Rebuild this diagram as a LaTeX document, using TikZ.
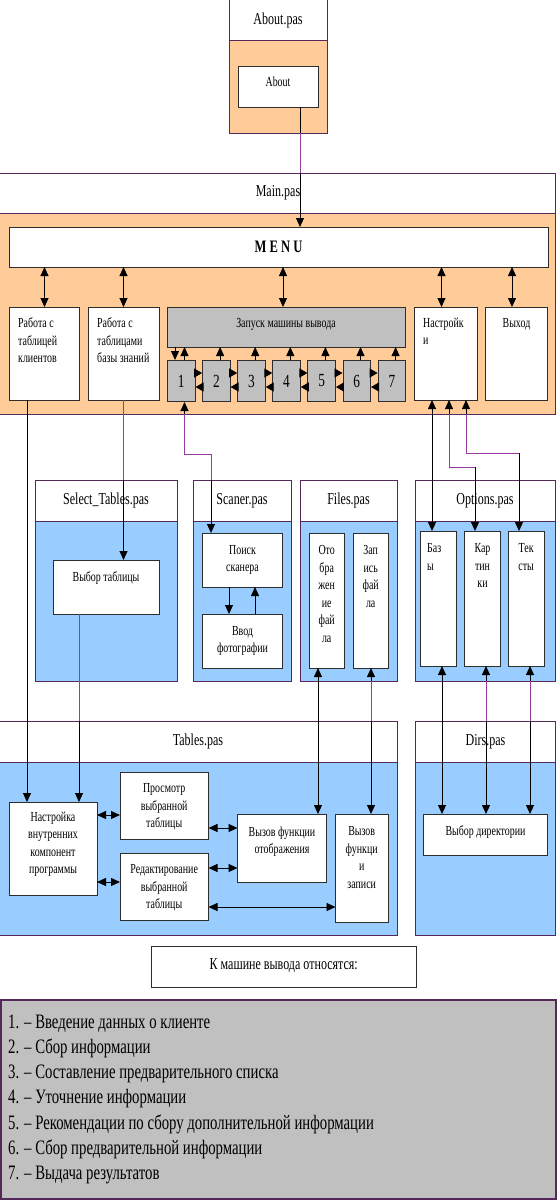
\documentclass[tikz,border=0pt]{standalone}
\usepackage{fontspec}
\setmainfont{Liberation Serif}[FakeStretch=0.72]
\usetikzlibrary{arrows.meta}
\definecolor{peach}{RGB}{255,204,153}
\definecolor{skyb}{RGB}{153,204,255}
\definecolor{grayb}{RGB}{192,192,192}
\definecolor{purp}{RGB}{150,60,160}
\definecolor{frameclr}{RGB}{85,40,90}
\definecolor{edgeclr}{RGB}{45,45,45}
\newcommand\bx[6]{\node[#6, anchor=north west, inner sep=0pt, outer sep=0pt, minimum width={(#4)-(#2)}, minimum height={(#5)-(#3)}] (#1) at (#2,#3) {};}
\tikzset{
  boxw/.style={draw=edgeclr, line width=1pt, fill=white},
  boxg/.style={draw=edgeclr, line width=1pt, fill=grayb},
  modhead/.style={draw=frameclr, line width=1pt, fill=white},
  modpeach/.style={draw=frameclr, line width=1pt, fill=peach},
  modblue/.style={draw=frameclr, line width=1pt, fill=skyb},
  legendbox/.style={draw=frameclr, line width=1.2pt, fill=grayb},
  hdr/.style={font=\fontsize{16.7}{19}\selectfont, inner sep=0pt},
  bt/.style={font=\fontsize{13.8}{17.5}\selectfont, inner sep=0pt, align=center},
  btl/.style={font=\fontsize{13.8}{17.5}\selectfont, inner sep=0pt, align=left},
  numtxt/.style={font=\fontsize{18.5}{20}\selectfont},
  conn/.style={line width=0.9pt, draw=black},
  pconn/.style={line width=0.9pt, draw=purp},
  arr/.style={conn, -{Triangle[length=9pt,width=8pt]}},
  darr/.style={conn, {Triangle[length=9pt,width=8pt]}-{Triangle[length=9pt,width=8pt]}},
  harr/.style={conn, -{Triangle[length=8pt,width=9pt]}},
}
\begin{document}
\begin{tikzpicture}[x=1pt,y=-1pt]
\useasboundingbox (0,0) rectangle (557,1200);

% ---------- module frames ----------
\bx{abouth}{229}{-1}{327}{40}{modhead}
\bx{aboutb}{229}{40}{327}{133}{modpeach}
\bx{mainh}{-1}{173}{555.5}{213.5}{modhead}
\bx{mainb}{-1}{213.5}{555.5}{414}{modpeach}
\bx{selh}{35}{480}{177}{521}{modhead}
\bx{selb}{35}{521}{177}{681}{modblue}
\bx{scanh}{193.5}{480}{291}{521}{modhead}
\bx{scanb}{193.5}{521}{291}{681}{modblue}
\bx{filesh}{300}{480}{397}{521}{modhead}
\bx{filesb}{300}{521}{397}{681}{modblue}
\bx{opth}{415}{480}{555.5}{521}{modhead}
\bx{optb}{415}{521}{555.5}{681}{modblue}
\bx{tabh}{-1}{721}{397}{762}{modhead}
\bx{tabb}{-1}{762}{397}{935}{modblue}
\bx{dirh}{415}{721}{555.5}{762}{modhead}
\bx{dirb}{415}{762}{555.5}{935}{modblue}

% ---------- inner boxes ----------
\bx{aboutin}{238}{66}{318}{107}{boxw}
\bx{menu}{9}{227}{548}{267}{boxw}
\bx{klient}{9}{307}{79}{400}{boxw}
\bx{znan}{88}{307}{159}{400}{boxw}
\bx{zap}{167}{307}{405}{347}{boxg}
\bx{nastr}{414.5}{307}{477}{400}{boxw}
\bx{vyhod}{485.5}{307}{547.5}{400}{boxw}
\foreach \i in {1,...,7}{
  \pgfmathsetmacro\xl{167+35.1*(\i-1)}
  \node[boxg, numtxt, anchor=north west, inner sep=0pt, minimum width=27.5, minimum height=41] (n\i) at (\xl,360) {\i};
}
\bx{vybtab}{53}{560}{159}{614}{boxw}
\bx{poisk}{202.5}{533}{282.5}{587}{boxw}
\bx{vvod}{202.5}{614}{282.5}{668}{boxw}
\bx{otobr}{309}{533}{344.5}{668}{boxw}
\bx{zapis}{353.5}{533}{388}{668}{boxw}
\bx{bazy}{420.5}{531}{456}{666}{boxw}
\bx{kart}{464.5}{531}{500.5}{666}{boxw}
\bx{teksty}{508.5}{531}{544}{666}{boxw}
\bx{nastrvn}{9}{802}{97}{895}{boxw}
\bx{prosm}{120}{772}{208.5}{839}{boxw}
\bx{red}{120}{853}{208.5}{920}{boxw}
\bx{vyzot}{237.5}{814}{326.5}{882}{boxw}
\bx{vyzap}{335.5}{814}{388}{922}{boxw}
\bx{vybdir}{423.5}{814}{547.5}{855}{boxw}
\bx{kmash}{151}{946}{416.5}{987}{boxw}
\bx{legend}{1}{1000}{556}{1199}{legendbox}

% ---------- texts ----------
\node[hdr] (t-abouth) at (278,20) {About.pas};
\node[bt] (t-about) at (278,82) {About};
\node[hdr] (t-mainh) at (278,193) {Main.pas};
\node[font=\fontsize{17.5}{19}\selectfont\bfseries, inner sep=0pt] (t-menu) at (278.5,247) {M E N U};
\node[btl, anchor=north west] (t-klient) at (18,317.5) {Работа с\\таблицей\\клиентов};
\node[btl, anchor=north west] (t-znan) at (97,317.5) {Работа с\\таблицами\\базы знаний};
\node[bt] (t-zap) at (286,324) {Запуск машины вывода};
\node[btl, anchor=north west] (t-nastr) at (423,317.5) {Настройк\\и};
\node[bt] (t-vyhod) at (516.5,324) {Выход};
\node[hdr] (t-selh) at (106,500.5) {Select\_Tables.pas};
\node[bt] (t-vybtab) at (106,578) {Выбор таблицы};
\node[hdr] (t-scanh) at (242,500.5) {Scaner.pas};
\node[bt, anchor=north] (t-poisk) at (242.5,545) {Поиск\\сканера};
\node[bt, anchor=north] (t-vvod) at (242.5,626) {Ввод\\фотографии};
\node[hdr] (t-filesh) at (348.5,500.5) {Files.pas};
\node[bt, anchor=north] (t-otobr) at (326.7,545.5) {Ото\\бра\\жен\\ие\\фай\\ла};
\node[bt, anchor=north] (t-zapis) at (370.7,545.5) {Зап\\ись\\фай\\ла};
\node[hdr] (t-opth) at (485,500.5) {Options.pas};
\node[btl, anchor=north west] (t-bazy) at (427,543.5) {Баз\\ы};
\node[bt, anchor=north] (t-kart) at (482.5,543.5) {Кар\\тин\\ки};
\node[bt, anchor=north] (t-teksty) at (526.2,543.5) {Тек\\сты};
\node[hdr] (t-tabh) at (198,741.5) {Tables.pas};
\node[hdr] (t-dirh) at (485.5,741.5) {Dirs.pas};
\node[bt, anchor=north] (t-nastrvn) at (53,811.5) {Настройка\\внутренних\\компонент\\программы};
\node[bt, anchor=north] (t-prosm) at (164.2,783.5) {Просмотр\\выбранной\\таблицы};
\node[bt, anchor=north] (t-red) at (164.2,864.5) {Редактирование\\выбранной\\таблицы};
\node[bt, anchor=north] (t-vyzot) at (282,826.5) {Вызов функции\\отображения};
\node[bt, anchor=north] (t-vyzap) at (361.7,826.5) {Вызов\\функци\\и\\записи};
\node[bt] (t-vybdir) at (485.5,832) {Выбор директории};
\node[font=\fontsize{16.7}{19}\selectfont, inner sep=0pt] (t-kmash) at (283.7,966) {К машине вывода относятся:};
\node[font=\fontsize{20.5}{25.2}\selectfont, inner sep=0pt, align=left, anchor=north west] (t-legend) at (8,1014.5) {%
1. – Введение данных о клиенте\\
2. – Сбор информации\\
3. – Составление предварительного списка\\
4. – Уточнение информации\\
5. – Рекомендации по сбору дополнительной информации\\
6. – Сбор предварительной информации\\
7. – Выдача результатов};

% ---------- column / jog coordinates ----------
\coordinate (cAb) at (300,0);
\coordinate (cM1) at (44.5,0);
\coordinate (cM2) at (123.5,0);
\coordinate (cM3) at (283,0);
\coordinate (cM4) at (441.5,0);
\coordinate (cM5) at (512,0);
\coordinate (cK) at (27,0);
\coordinate (cS) at (79,0);
\coordinate (cD1) at (175,0);
\coordinate (cU1) at (184.5,0);
\coordinate (jB) at (211,454);
\coordinate (cSc1) at (229,0);
\coordinate (cSc2) at (255,0);
\coordinate (cF1) at (318,0);
\coordinate (cF2) at (371,0);
\coordinate (cN1) at (432,0);
\coordinate (cN2) at (449,0);
\coordinate (cN3) at (466,0);
\coordinate (jN2) at (475,467);
\coordinate (jN3) at (519,453);
\coordinate (cO1) at (442,0);
\coordinate (cO2) at (486,0);
\coordinate (cO3) at (530,0);
\coordinate (yR) at (0,373);
\coordinate (yL) at (0,387);
\coordinate (yT1) at (0,815);
\coordinate (yT2) at (0,882);
\coordinate (yT3) at (0,828);
\coordinate (yT4) at (0,868);
\coordinate (yT5) at (0,907);

% ---------- connectors ----------
\draw[arr] (aboutin.south -| cAb) -- (menu.north -| cAb);
\draw[pconn] (aboutb.south -| cAb) -- (mainh.north -| cAb);

\draw[darr] (menu.south -| cM1) -- (klient.north -| cM1);
\draw[darr] (menu.south -| cM2) -- (znan.north -| cM2);
\draw[darr] (menu.south -| cM3) -- (zap.north -| cM3);
\draw[darr] (menu.south -| cM4) -- (nastr.north -| cM4);
\draw[darr] (menu.south -| cM5) -- (vyhod.north -| cM5);

% launch machine and numbered steps
\draw[arr] (zap.south -| cD1) -- (n1.north -| cD1);
\draw[arr] (n1.north -| cU1) -- (zap.south -| cU1);
\foreach \i in {2,...,7}{
  \draw[arr] ([xshift=18pt]n\i.north west) -- ([xshift=18pt]n\i.north west |- zap.south);
}
\foreach \i/\j in {1/2,2/3,3/4,4/5,5/6,6/7}{
  \draw[harr] (n\i.east |- yR) -- (n\j.west |- yR);
  \draw[harr] (n\j.west |- yL) -- (n\i.east |- yL);
}

% step 1 -> scanner
\draw[darr] (n1.south -| cU1) |- (jB) -- (poisk.north -| jB);
\draw[pconn] (mainb.south -| cU1) |- (jB) -- (scanh.north -| jB);

% tables of clients / knowledge base
\draw[arr] (klient.south -| cK) -- (nastrvn.north -| cK);
\draw[arr] (znan.south -| cM2) -- (vybtab.north -| cM2);
\draw[pconn] (znan.south -| cM2) -- (selh.north -| cM2);
\draw[arr] (vybtab.south -| cS) -- (nastrvn.north -| cS);
\draw[pconn] (vybtab.south -| cS) -- (tabh.north -| cS);

% scanner inner
\draw[arr] (poisk.south -| cSc1) -- (vvod.north -| cSc1);
\draw[arr] (vvod.north -| cSc2) -- (poisk.south -| cSc2);

% files <-> tables
\draw[darr] (otobr.south -| cF1) -- (vyzot.north -| cF1);
\draw[darr] (zapis.south -| cF2) -- (vyzap.north -| cF2);
\draw[pconn] (filesb.south -| cF2) -- (tabh.north -| cF2);

% settings <-> options
\draw[darr] (nastr.south -| cN1) -- (bazy.north -| cN1);
\draw[darr] (nastr.south -| cN2) |- (jN2) -- (kart.north -| jN2);
\draw[pconn] (mainb.south -| cN2) |- (jN2);
\draw[darr] (nastr.south -| cN3) |- (jN3) -- (teksty.north -| jN3);
\draw[pconn] (mainb.south -| cN3) |- (jN3);

% options <-> dirs
\draw[darr] (bazy.south -| cO1) -- (vybdir.north -| cO1);
\draw[darr] (kart.south -| cO2) -- (vybdir.north -| cO2);
\draw[pconn] (optb.south -| cO2) -- (dirh.north -| cO2);
\draw[darr] (teksty.south -| cO3) -- (vybdir.north -| cO3);
\draw[pconn] (optb.south -| cO3) -- (dirh.north -| cO3);

% inside Tables.pas
\draw[darr] (nastrvn.east |- yT1) -- (prosm.west |- yT1);
\draw[darr] (nastrvn.east |- yT2) -- (red.west |- yT2);
\draw[darr] (prosm.east |- yT3) -- (vyzot.west |- yT3);
\draw[darr] (red.east |- yT4) -- (vyzot.west |- yT4);
\draw[darr] (red.east |- yT5) -- (vyzap.west |- yT5);
\end{tikzpicture}
\end{document}
